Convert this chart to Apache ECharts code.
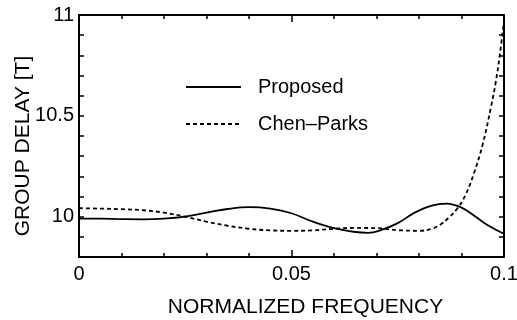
<!DOCTYPE html>
<html>
<head>
<meta charset="utf-8">
<script src="https://cdn.jsdelivr.net/npm/echarts@6/dist/echarts.min.js"></script>
<style>
html,body{margin:0;padding:0;background:#fff;}
#c{width:517px;height:320px;}
</style>
</head>
<body>
<div id="c"></div>
<script>
// Data
var seriesNames = ['Proposed', 'Chen\u2013Parks'];
var proposedX = [0, 0.005, 0.01, 0.015, 0.02, 0.025, 0.03, 0.035, 0.04, 0.045, 0.05, 0.055, 0.06, 0.065, 0.068, 0.071, 0.075, 0.079, 0.083, 0.0865, 0.09, 0.093, 0.096, 0.1];
var proposedY = [9.99, 9.99, 9.988, 9.987, 9.99, 10.0, 10.02, 10.038, 10.047, 10.04, 10.017, 9.975, 9.943, 9.924, 9.92, 9.933, 9.968, 10.02, 10.055, 10.065, 10.045, 10.005, 9.96, 9.915];
var chenX = [0, 0.005, 0.01, 0.015, 0.02, 0.025, 0.03, 0.035, 0.04, 0.045, 0.05, 0.055, 0.06, 0.065, 0.07, 0.075, 0.08, 0.083, 0.085, 0.087, 0.089, 0.091, 0.093, 0.095, 0.097, 0.098, 0.099, 0.1];
var chenY = [10.042, 10.04, 10.037, 10.032, 10.02, 10.0, 9.975, 9.955, 9.94, 9.932, 9.93, 9.932, 9.94, 9.944, 9.943, 9.933, 9.93, 9.94, 9.96, 9.995, 10.04, 10.11, 10.22, 10.36, 10.55, 10.66, 10.8, 10.97];
var xTickLabels = {0: '0', 0.05: '0.05', 0.1: '0.1'};
var yTickLabels = ['10', '10.5', '11'];

function pairs(xs, ys) { return xs.map(function (x, i) { return [x, ys[i]]; }); }

var FONT = '"Liberation Sans", Arial, Helvetica, sans-serif';
var chart = echarts.init(document.getElementById('c'), null, {renderer: 'canvas'});

function xAxisBase(pos, showLabel) {
  return {
    type: 'value', position: pos, min: 0, max: 0.1, interval: 0.05,
    axisLine: {show: true, onZero: false, lineStyle: {color: '#000', width: 2}},
    axisTick: {show: true, inside: true, length: 7, lineStyle: {color: '#000', width: 1.5}},
    minorTick: {show: true, splitNumber: 5, length: 4, lineStyle: {color: '#000', width: 1.5}},
    splitLine: {show: false}, minorSplitLine: {show: false},
    axisLabel: {
      show: showLabel, color: '#000', fontSize: 20, fontFamily: FONT, margin: 7,
      formatter: function (v) {
        var k = Math.round(v * 100) / 100;
        return xTickLabels[k] !== undefined ? xTickLabels[k] : '';
      }
    }
  };
}
function yAxisBase(pos, showLabel) {
  return {
    type: 'value', position: pos, min: 9.8, max: 11, interval: 0.1,
    axisLine: {show: true, onZero: false, lineStyle: {color: '#000', width: 2}},
    axisTick: {show: true, inside: true, length: 5, lineStyle: {color: '#000', width: 1.5}},
    splitLine: {show: false},
    axisLabel: {
      show: showLabel, color: '#000', fontSize: 20, fontFamily: FONT, margin: 5,
      formatter: function (v) {
        var s = String(Math.round(v * 10) / 10);
        return yTickLabels.indexOf(s) >= 0 ? s : '';
      }
    }
  };
}

var xb = xAxisBase('bottom', true);
xb.name = 'NORMALIZED FREQUENCY';
xb.nameLocation = 'middle';
xb.nameGap = 40;
xb.nameTextStyle = {color: '#000', fontSize: 21, fontFamily: FONT, padding: [0, 0, 0, 28]};
var xt = xAxisBase('top', false);

var yl = yAxisBase('left', true);
yl.name = 'GROUP DELAY [T]';
yl.nameLocation = 'middle';
yl.nameGap = 45;
yl.nameRotate = 90;
yl.nameMoveOverlap = false;
yl.nameTextStyle = {color: '#000', fontSize: 21, fontFamily: FONT, padding: [0, 20, 0, 0]};
var yr = yAxisBase('right', false);

chart.setOption({
  animation: false,
  backgroundColor: '#fff',
  grid: {left: 79, right: 13, top: 15, bottom: 63, containLabel: false, outerBoundsMode: 'none'},
  legend: {
    show: true, orient: 'vertical', left: 185, top: 77, padding: 0,
    itemWidth: 55, itemHeight: 20, itemGap: 17,
    data: seriesNames,
    itemStyle: {opacity: 0},
    textStyle: {color: '#000', fontSize: 20, fontFamily: FONT, padding: [0, 0, 0, 12]}
  },
  xAxis: [xb, xt],
  yAxis: [yl, yr],
  series: [
    {
      name: seriesNames[0], type: 'line', xAxisIndex: 0, yAxisIndex: 0,
      data: pairs(proposedX, proposedY), smooth: 0.4, symbol: 'none',
      lineStyle: {color: '#000', width: 1.8, type: 'solid'}, itemStyle: {color: '#000'}
    },
    {
      name: seriesNames[1], type: 'line', xAxisIndex: 0, yAxisIndex: 0,
      data: pairs(chenX, chenY), smooth: 0.4, symbol: 'none',
      lineStyle: {color: '#000', width: 1.8, type: [4, 3]}, itemStyle: {color: '#000'}
    }
  ]
});
</script>
</body>
</html>
